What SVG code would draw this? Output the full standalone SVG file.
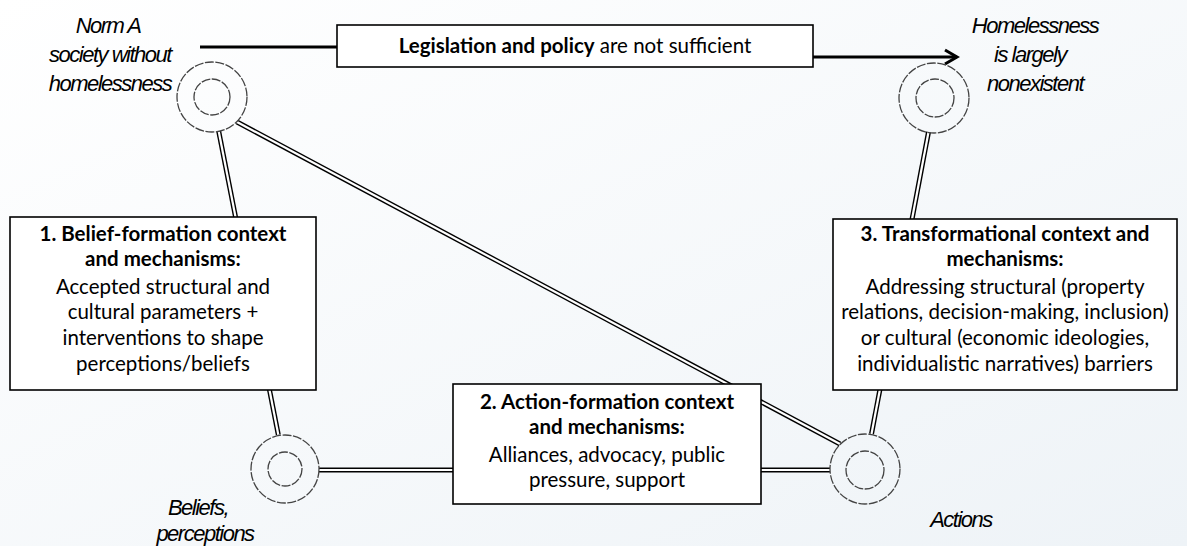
<svg xmlns="http://www.w3.org/2000/svg" width="1187" height="546" viewBox="0 0 1187 546">
<defs>
<linearGradient id="bg" x1="0" y1="0" x2="1" y2="1">
<stop offset="0" stop-color="#ffffff"/>
<stop offset="1" stop-color="#eef3f7"/>
</linearGradient>
<style>
.box{fill:#ffffff;stroke:#000;stroke-width:1.6}
.t{font-family:Lato,"Open Sans",sans-serif;font-size:20.5px;fill:#000;text-anchor:middle}
.b{font-weight:bold}
.lbl{font-family:"Liberation Sans",Arial,sans-serif;font-style:italic;font-size:22px;letter-spacing:-1.5px;fill:#000;text-anchor:middle}
.ring{fill:none;stroke:#444;stroke-width:1.3;stroke-dasharray:9 1.5}
.dbl-o{stroke:#000;stroke-width:5;fill:none}
.dbl-i{stroke:#fff;stroke-width:2.2;fill:none}
.arr{stroke:#000;stroke-width:3;fill:none}
</style>
</defs>
<rect x="0" y="0" width="1187" height="546" fill="url(#bg)"/>

<g id="connectors">
<g class="dbl-o">
<line x1="218.7" y1="131.3" x2="278.3" y2="434.7"/>
<line x1="928.5" y1="132" x2="871.5" y2="434"/>
<line x1="237" y1="122" x2="840" y2="444"/>
<line x1="319" y1="470" x2="830" y2="470"/>
</g>
<g class="dbl-i">
<line x1="218.7" y1="131.3" x2="278.3" y2="434.7"/>
<line x1="928.5" y1="132" x2="871.5" y2="434"/>
<line x1="237" y1="122" x2="840" y2="444"/>
<line x1="319" y1="470" x2="830" y2="470"/>
</g>
<line class="arr" x1="200" y1="47" x2="337" y2="47"/>
<line class="arr" x1="813" y1="57" x2="957" y2="57"/>
<polyline class="arr" points="945,50 957,57 945,64"/>
</g>

<g id="policy">
<rect class="box" x="337" y="25" width="476" height="42"/>
<text class="t" x="575" y="53"><tspan class="b">Legislation and policy</tspan> are not sufficient</text>
</g>

<g id="normA">
<circle class="ring" cx="212" cy="97" r="35"/>
<circle class="ring" cx="212" cy="97" r="18"/>
<text class="lbl" x="108" y="33">Norm A</text>
<text class="lbl" x="110" y="62">society without</text>
<text class="lbl" x="110" y="91">homelessness</text>
</g>

<g id="homeless">
<circle class="ring" cx="934" cy="98" r="35"/>
<circle class="ring" cx="935" cy="98" r="19"/>
<text class="lbl" x="1035" y="33">Homelessness</text>
<text class="lbl" x="1030" y="62">is largely</text>
<text class="lbl" x="1035" y="91">nonexistent</text>
</g>

<g id="beliefs">
<circle class="ring" cx="285" cy="469" r="34"/>
<circle class="ring" cx="285" cy="469" r="17"/>
<text class="lbl" x="198" y="515">Beliefs,</text>
<text class="lbl" x="205" y="541">perceptions</text>
</g>

<g id="actions">
<circle class="ring" cx="865" cy="469" r="35"/>
<circle class="ring" cx="865" cy="470" r="19"/>
<text class="lbl" x="961" y="527">Actions</text>
</g>

<g id="box1">
<rect class="box" x="10" y="217" width="306" height="173"/>
<text class="t b" x="163" y="241">1. Belief-formation context</text>
<text class="t b" x="163" y="266">and mechanisms:</text>
<text class="t" x="163" y="294">Accepted structural and</text>
<text class="t" x="163" y="319">cultural parameters +</text>
<text class="t" x="163" y="345">interventions to shape</text>
<text class="t" x="163" y="371">perceptions/beliefs</text>
</g>

<g id="box2">
<rect class="box" x="453" y="384" width="308" height="120"/>
<text class="t b" x="607" y="409">2. Action-formation context</text>
<text class="t b" x="607" y="434">and mechanisms:</text>
<text class="t" x="607" y="462">Alliances, advocacy, public</text>
<text class="t" x="607" y="487">pressure, support</text>
</g>

<g id="box3">
<rect class="box" x="833" y="219" width="344" height="171"/>
<text class="t b" x="1005" y="241">3. Transformational context and</text>
<text class="t b" x="1005" y="266">mechanisms:</text>
<text class="t" x="1005" y="294">Addressing structural (property</text>
<text class="t" x="1005" y="319">relations, decision-making, inclusion)</text>
<text class="t" x="1005" y="345">or cultural (economic ideologies,</text>
<text class="t" x="1005" y="371">individualistic narratives) barriers</text>
</g>
</svg>
